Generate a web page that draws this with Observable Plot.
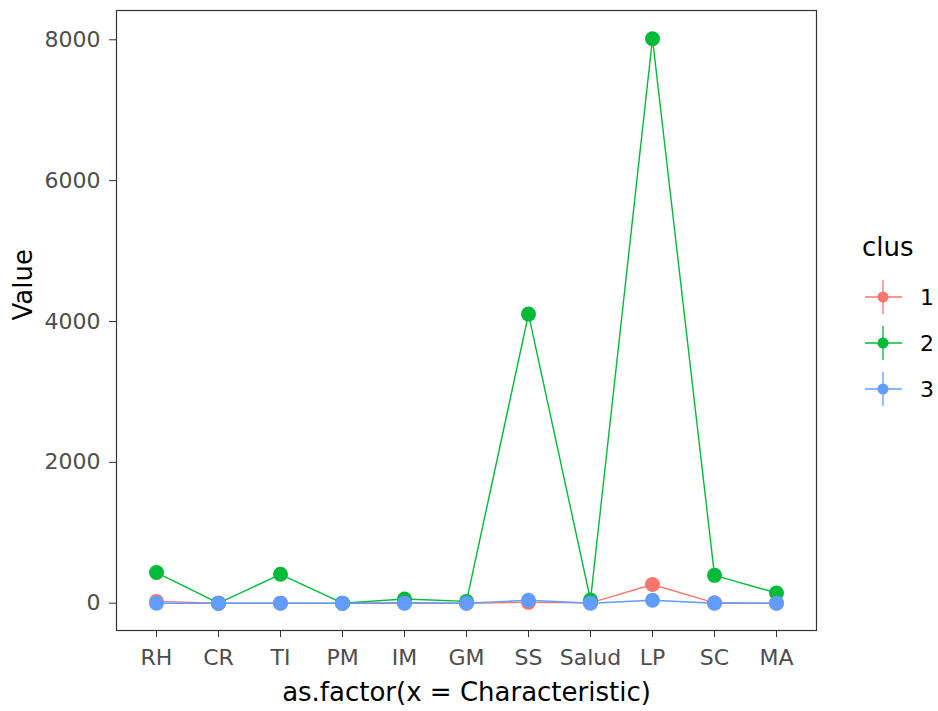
<!DOCTYPE html>
<html><head><meta charset="utf-8">
<script src="https://cdn.jsdelivr.net/npm/d3@7"></script>
<script src="https://cdn.jsdelivr.net/npm/@observablehq/plot@0.6"></script>
<style>
body{margin:0;background:#fff;}
#wrap{position:relative;width:938px;height:711px;font-family:"DejaVu Sans",sans-serif;background:#fff;}
#legend{position:absolute;left:850px;top:220px;}
</style></head><body><div id="wrap"></div>
<script>
const categories = ["RH","CR","TI","PM","IM","GM","SS","Salud","LP","SC","MA"];
const clusters = ["1","2","3"];
const colors = ["#F8766D","#00BA38","#619CFF"];
const clus1 = [25, 0, 0, 0, 5, 0, 12, 5, 265, 5, 0];
const clus2 = [435, 0, 410, 0, 60, 25, 4105, 45, 8015, 395, 145];
const clus3 = [0, 0, 0, 0, 0, 0, 42, 0, 42, 0, 0];
const yTicks = [0, 2000, 4000, 6000, 8000];
const xTitle = "as.factor(x = Characteristic)";
const yTitle = "Value";
const legendTitle = "clus";

const data = [];
[clus1, clus2, clus3].forEach((vals, i) =>
  vals.forEach((v, j) => data.push({x: categories[j], y: v, clus: clusters[i]})));

const plot = Plot.plot({
  width: 938, height: 711,
  marginLeft: 116, marginRight: 122, marginTop: 10, marginBottom: 81,
  style: {fontFamily: "DejaVu Sans", background: "#fff"},
  x: {type: "point", domain: categories, padding: 0.6},
  y: {domain: [-388, 8416]},
  color: {domain: clusters, range: colors},
  marks: [
    Plot.axisY({ticks: yTicks, tickFormat: d => String(d), tickSize: 7, tickPadding: 9, fontSize: 22, fill: "#4d4d4d", stroke: "#333", label: null}),
    Plot.axisX({tickSize: 7, tickPadding: 12, fontSize: 22, fill: "#4d4d4d", stroke: "#333", label: null}),
    Plot.line(data, {x: "x", y: "y", stroke: "clus", strokeWidth: 1.4}),
    Plot.dot(data, {x: "x", y: "y", fill: "clus", r: 7.5}),
    Plot.frame({stroke: "#333", strokeWidth: 1.2}),
    Plot.text([yTitle], {frameAnchor: "left", rotate: -90, dx: -93, fontSize: 26, fill: "black"}),
    Plot.text([xTitle], {frameAnchor: "bottom", dy: 62, fontSize: 26, fill: "black", lineAnchor: "middle"})
  ]
});
document.getElementById("wrap").appendChild(plot);

// legend
const lg = d3.select("#wrap").append("svg").attr("id", "legend")
  .attr("width", 88).attr("height", 190)
  .style("font-family", "DejaVu Sans");
lg.append("text").attr("x", 12).attr("y", 27).attr("dominant-baseline", "central")
  .attr("font-size", 26).attr("fill", "black").text(legendTitle);
clusters.forEach((c, i) => {
  const cy = 77 + i * 46;
  const g = lg.append("g");
  g.append("line").attr("x1", 15).attr("x2", 52).attr("y1", cy).attr("y2", cy).attr("stroke", colors[i]).attr("stroke-width", 1.3);
  g.append("line").attr("x1", 33).attr("x2", 33).attr("y1", cy - 17).attr("y2", cy + 17).attr("stroke", colors[i]).attr("stroke-width", 1.3);
  g.append("circle").attr("cx", 33).attr("cy", cy).attr("r", 5.5).attr("fill", colors[i]);
  g.append("text").attr("x", 70).attr("y", cy).attr("dominant-baseline", "central")
    .attr("font-size", 22).attr("fill", "black").text(c);
});
</script></body></html>
